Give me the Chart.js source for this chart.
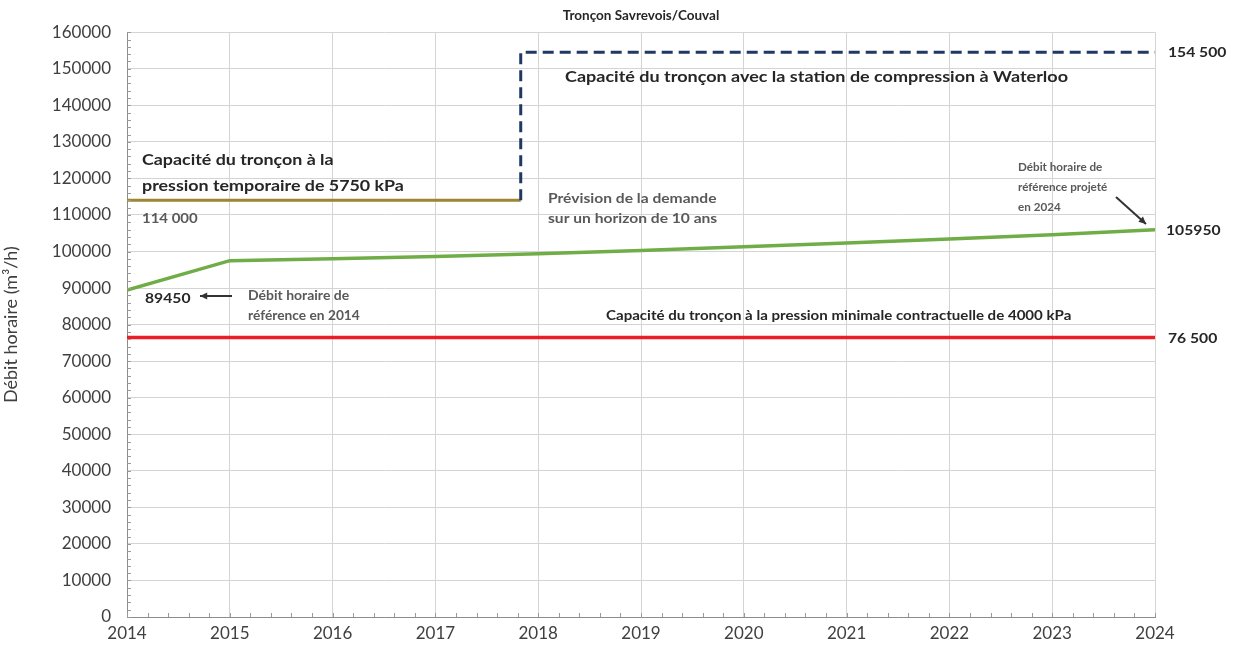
<!DOCTYPE html>
<html>
<head>
<meta charset="utf-8">
<script src="https://cdn.jsdelivr.net/npm/chart.js@4.4.1/dist/chart.umd.min.js"></script>
<style>
  html, body { margin: 0; padding: 0; background: #fff; }
  #wrap { width: 1242px; height: 651px; }
</style>
</head>
<body>
<div id="wrap"><canvas id="myChart" width="1242" height="651"></canvas></div>
<script>
// data
const years = [2014, 2015, 2016, 2017, 2018, 2019, 2020, 2021, 2022, 2023, 2024];
const demand = [89450, 97500, 98000, 98600, 99400, 100300, 101300, 102300, 103400, 104600, 105950];
const tempCapX = [2014, 2017.83];
const tempCapY = [114000, 114000];
const waterlooX = [2017.83, 2017.83, 2024];
const waterlooY = [114000, 154500, 154500];
const minCapX = [2014, 2024];
const minCapY = [76500, 76500];

const pts = (xs, ys) => xs.map((x, i) => ({ x: x, y: ys[i] }));

const FONT = "Lato, 'Open Sans', sans-serif";

function arrow(ctx, x1, y1, x2, y2) {
  const a = Math.atan2(y2 - y1, x2 - x1);
  ctx.beginPath();
  ctx.moveTo(x1, y1);
  ctx.lineTo(x2, y2);
  ctx.stroke();
  ctx.beginPath();
  ctx.moveTo(x2, y2);
  ctx.lineTo(x2 - 8 * Math.cos(a - 0.45), y2 - 8 * Math.sin(a - 0.45));
  ctx.lineTo(x2 - 8 * Math.cos(a + 0.45), y2 - 8 * Math.sin(a + 0.45));
  ctx.closePath();
  ctx.fill();
}

const notes = {
  id: "notes",
  afterDraw(chart) {
    const ctx = chart.ctx;
    const xs = chart.scales.x, ys = chart.scales.y;
    const area = chart.chartArea;
    ctx.save();

    // small minor ticks inside the axes
    ctx.strokeStyle = "#9a9a9a";
    ctx.lineWidth = 1;
    for (let v = 0; v <= 160000; v += 2000) {
      const y = Math.round(ys.getPixelForValue(v)) + 0.5;
      ctx.beginPath();
      ctx.moveTo(area.left, y);
      ctx.lineTo(area.left + 4, y);
      ctx.stroke();
    }
    for (let v = 2014; v <= 2024.001; v += 0.2) {
      const x = Math.round(xs.getPixelForValue(v)) + 0.5;
      ctx.beginPath();
      ctx.moveTo(x, area.bottom);
      ctx.lineTo(x, area.bottom - 4);
      ctx.stroke();
    }

    const Y = v => ys.getPixelForValue(v);
    // text a bit stretched sideways, like the reference
    const txt = (s, x, y, size, color, sx) => {
      ctx.save();
      ctx.font = "bold " + size + "px " + FONT;
      ctx.fillStyle = color;
      ctx.textAlign = "left";
      ctx.textBaseline = "middle";
      ctx.translate(x, y);
      ctx.scale(sx || 1.19, 1);
      ctx.fillText(s, 0, 0);
      ctx.restore();
    };

    txt("Capacité du tronçon à la", 142, 160, 15, "#262626");
    txt("pression temporaire de 5750 kPa", 142, 186, 15, "#262626");
    txt("114 000", 142, 219, 13, "#595959", 1.15);
    txt("Capacité du tronçon avec la station de compression à Waterloo", 565, 77, 15, "#262626", 1.2);
    txt("Prévision de la demande", 548, 199, 13, "#595959", 1.2);
    txt("sur un horizon de 10 ans", 548, 219, 13, "#595959", 1.2);
    txt("Débit horaire de", 1018, 167, 11, "#595959", 1.06);
    txt("référence projeté", 1018, 187, 11, "#595959", 1.06);
    txt("en 2024", 1018, 207, 11, "#595959", 1.06);
    txt("89450", 145, 298, 14, "#262626", 1.12);
    txt("Débit horaire de", 248, 296, 12.5, "#595959", 1.12);
    txt("référence en 2014", 248, 316, 12.5, "#595959", 1.1);
    txt("Capacité du tronçon à la pression minimale contractuelle de 4000 kPa", 606, 316, 13, "#262626", 1.16);

    // values on the right side
    txt("154 500", area.right + 13, Y(154500), 14, "#262626", 1.12);
    txt("105950", area.right + 11, Y(105950) + 1, 14, "#262626", 1.12);
    txt("76 500", area.right + 13, Y(76500) + 1, 14, "#262626", 1.12);

    ctx.strokeStyle = "#333";
    ctx.fillStyle = "#333";
    ctx.lineWidth = 2;
    arrow(ctx, 1116, 197, 1146, 224);
    arrow(ctx, 232, 296, 200, 296);
    ctx.restore();
  }
};

new Chart(document.getElementById("myChart").getContext("2d"), {
  type: "line",
  data: {
    datasets: [
      {
        label: "Capacité minimale",
        data: pts(minCapX, minCapY),
        borderColor: "#ee1c25",
        borderWidth: 3.5,
        pointRadius: 0,
        order: 4
      },
      {
        label: "Prévision de la demande",
        data: pts(years, demand),
        borderColor: "#70ad47",
        borderWidth: 3.5,
        pointRadius: 0,
        order: 3
      },
      {
        label: "Capacité 5750 kPa",
        data: pts(tempCapX, tempCapY),
        borderColor: "#9e8530",
        borderWidth: 3,
        pointRadius: 0,
        order: 2
      },
      {
        label: "Capacité avec Waterloo",
        data: pts(waterlooX, waterlooY),
        borderColor: "#1f3864",
        borderWidth: 3,
        borderDash: [11, 6],
        pointRadius: 0,
        order: 1
      }
    ]
  },
  options: {
    responsive: false,
    animation: false,
    layout: { padding: { left: 0, right: 87, top: 0, bottom: 0 } },
    plugins: {
      legend: { display: false },
      tooltip: { enabled: false },
      title: {
        display: true,
        text: "Tronçon Savrevois/Couval",
        fullSize: false,
        color: "#262626",
        font: { family: FONT, size: 13.5, weight: "bold" },
        padding: { top: 8, bottom: 8 }
      }
    },
    scales: {
      x: {
        type: "linear",
        min: 2014,
        max: 2024,
        ticks: {
          stepSize: 1,
          color: "#404040",
          font: { family: FONT, size: 17 },
          padding: 6,
          callback: v => String(v)
        },
        grid: { color: "#d4d4d4", drawTicks: false },
        border: { color: "#8c8c8c" },
        afterFit: s => { s.height = 34; }
      },
      y: {
        min: 0,
        max: 160000,
        title: {
          display: true,
          text: "Débit horaire (m³/h)",
          color: "#404040",
          font: { family: FONT, size: 18 },
          padding: { top: 0, bottom: 4 }
        },
        ticks: {
          stepSize: 10000,
          color: "#404040",
          font: { family: FONT, size: 17 },
          padding: 16,
          callback: v => String(v)
        },
        grid: { color: "#d4d4d4", drawTicks: false },
        border: { color: "#8c8c8c" },
        afterFit: s => { s.width = 127; }
      }
    }
  },
  plugins: [notes]
});
</script>
</body>
</html>
